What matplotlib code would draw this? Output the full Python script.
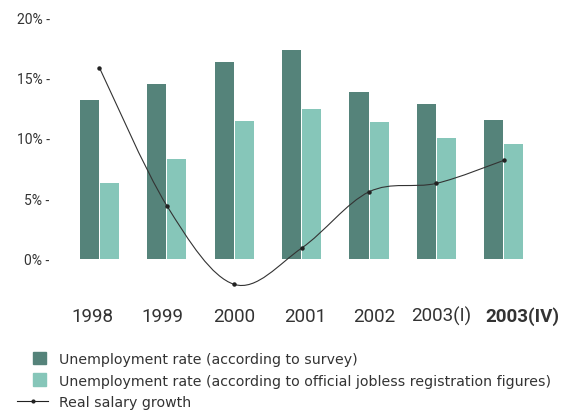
import numpy as np
import matplotlib
matplotlib.use("Agg")
import matplotlib.pyplot as plt
import matplotlib.patches as mpatches
from matplotlib.path import Path
from matplotlib.lines import Line2D
from matplotlib.legend_handler import HandlerPatch

plt.rcParams['font.family'] = ['Roboto', 'DejaVu Sans']

# data
years = ['1998', '1999', '2000', '2001', '2002', '2003(I)', '2003(IV)']
survey = [13.1, 14.5, 16.3, 17.3, 13.8, 12.85, 11.5]
registered = [6.3, 8.3, 11.4, 12.4, 11.3, 10.0, 9.5]
salary = [15.8, 4.4, -2.1, 0.9, 5.55, 6.25, 8.15]
yticks = [0, 5, 10, 15, 20]

dark = '#55837a'
light = '#86c6b9'
txt = '#333333'

fig = plt.figure(figsize=(5.76, 4.14), dpi=100)
ax = fig.add_axes([0.0908, 0.299, 0.8658, 0.6575])

x = np.arange(len(years))
w = 0.283
ax.bar(x - 0.149, survey, w, color=dark, linewidth=0)
ax.bar(x + 0.149, registered, w, color=light, linewidth=0)

# smooth line through the salary points (cubic bezier, catmull-rom tangents)
pts = np.column_stack([x, salary]).astype(float)
verts = [tuple(pts[0])]
codes = [Path.MOVETO]
n = len(pts)
for i in range(n - 1):
    p0 = pts[i - 1] if i > 0 else pts[i]
    p1, p2 = pts[i], pts[i + 1]
    p3 = pts[i + 2] if i + 2 < n else pts[i + 1]
    c1 = p1 + (p2 - p0) / 6.0
    c2 = p2 - (p3 - p1) / 6.0
    verts += [tuple(c1), tuple(c2), tuple(p2)]
    codes += [Path.CURVE4] * 3
ax.add_patch(mpatches.PathPatch(Path(verts, codes), fill=False, edgecolor='#333333', lw=0.8))
ax.plot(x, salary, linestyle='none', marker='o', ms=2.2, color='#222222')

ax.set_xlim(-0.7, 6.7)
ax.set_ylim(-2.5, 20)
ax.set_yticks(yticks)
ax.set_yticklabels([f'{v}% -' for v in yticks], fontsize=10, color=txt)
ax.tick_params(axis='y', length=0, pad=2)
ax.set_xticks([])
for s in ax.spines.values():
    s.set_visible(False)

# category labels under the plot
label_x = [-0.10, 0.94, 2.0, 3.05, 4.07, 5.07, 6.28]
for i, (lx, lab) in enumerate(zip(label_x, years)):
    ax.text(lx, -4.68, lab, ha='center', va='center', fontsize=13.5, color=txt,
            fontweight='bold' if i == len(years) - 1 else 'normal')


def square(legend, orig_handle, xdescent, ydescent, width, height, fontsize):
    # handle box units are points
    s = 9.1
    return mpatches.Rectangle((width - s - xdescent - 1.5, height / 2 - s / 2 - ydescent), s, s)


h1 = mpatches.Patch(color=dark)
h2 = mpatches.Patch(color=light)
h3 = Line2D([], [], color='#222222', lw=0.8, marker='o', ms=2)
fig.legend([h1, h2, h3],
           ['Unemployment rate (according to survey)',
            'Unemployment rate (according to official jobless registration figures)',
            'Real salary growth'],
           handler_map={mpatches.Patch: HandlerPatch(patch_func=square)},
           loc='upper left', bbox_to_anchor=(17 / 576, 1 - 353 / 414),
           frameon=False, labelcolor=txt, handlelength=2.19,
           handletextpad=0.78, labelspacing=0.53, borderpad=0, borderaxespad=0,
           prop={'family': 'DejaVu Sans', 'size': 10.2})

fig.savefig('out.png', dpi=100)
